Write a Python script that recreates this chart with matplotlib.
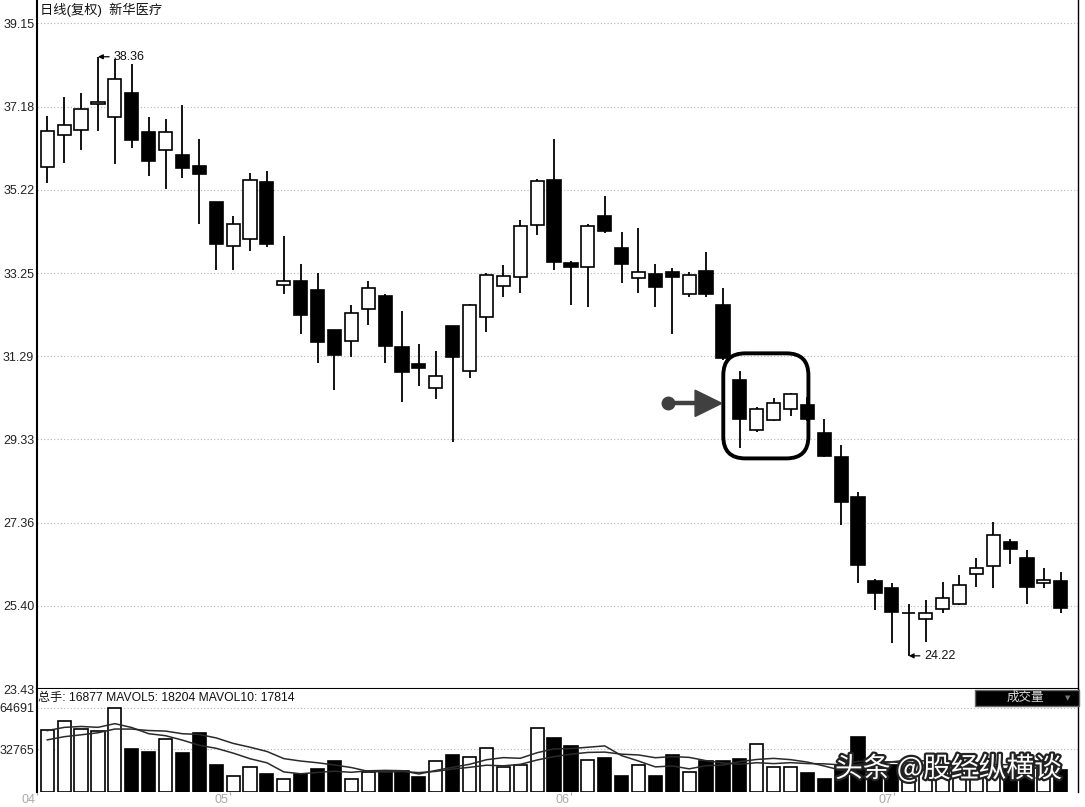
import matplotlib
matplotlib.use('Agg')
import matplotlib.pyplot as plt
import numpy as np
import pandas as pd
from matplotlib.patches import FancyBboxPatch, Polygon, Rectangle
import matplotlib.patheffects as pe

plt.rcParams['font.family'] = ['Liberation Sans', 'Noto Sans CJK SC', 'DejaVu Sans']

# ---------------- data ----------------
opens = [35.75, 36.52, 36.63, 37.24, 36.94, 37.51, 36.59, 36.15, 36.04, 35.78,
         34.93, 33.89, 34.05, 35.41, 32.98, 33.06, 32.85, 31.92, 31.66, 32.40,
         32.71, 31.50, 31.11, 30.54, 32.00, 30.95, 32.21, 32.95, 33.15, 34.40,
         35.46, 33.50, 33.40, 34.59, 33.85, 33.14, 33.24, 33.28, 32.77, 33.30,
         32.49, 30.74, 29.55, 29.79, 30.05, 30.15, 29.47, 28.91, 27.96, 25.99,
         25.81, 25.22, 25.08, 25.32, 25.45, 26.15, 26.33, 26.90, 26.54, 25.93,
         25.99]
highs = [36.96, 37.40, 37.51, 38.36, 38.30, 38.20, 36.94, 36.90, 37.22, 36.41,
         34.93, 34.59, 35.62, 35.67, 34.12, 33.46, 33.26, 31.92, 32.49, 33.07,
         32.75, 32.37, 31.58, 31.41, 32.00, 32.53, 33.25, 33.44, 34.50, 35.47,
         36.41, 33.55, 34.42, 35.07, 34.22, 34.33, 33.48, 33.37, 33.28, 33.75,
         32.91, 30.95, 30.10, 30.31, 30.42, 30.34, 29.81, 29.20, 28.08, 26.03,
         25.93, 25.45, 25.54, 25.97, 26.12, 26.54, 27.37, 26.98, 26.72, 26.30,
         26.20]
lows = [35.37, 35.86, 36.15, 36.60, 35.84, 36.21, 35.55, 35.24, 35.50, 34.42,
        33.32, 33.32, 33.77, 33.87, 32.77, 31.82, 31.14, 30.50, 31.27, 32.03,
        31.14, 30.20, 30.58, 30.28, 29.26, 30.77, 31.86, 32.69, 32.79, 34.16,
        33.32, 32.49, 32.45, 34.20, 33.02, 32.78, 32.45, 31.82, 32.70, 32.69,
        31.20, 29.12, 29.50, 29.76, 29.89, 29.77, 28.92, 27.31, 25.93, 25.30,
        24.53, 24.22, 24.55, 25.24, 25.43, 25.85, 25.82, 26.38, 25.45, 25.83,
        25.24]
closes = [36.61, 36.74, 37.12, 37.30, 37.83, 36.39, 35.89, 36.58, 35.74, 35.59,
          33.93, 34.41, 35.46, 33.93, 33.06, 32.27, 31.62, 31.31, 32.32, 32.90,
          31.54, 30.93, 31.01, 30.82, 31.27, 32.51, 33.22, 33.19, 34.37, 35.42,
          33.51, 33.40, 34.36, 34.24, 33.48, 33.28, 32.92, 33.16, 33.20, 32.77,
          31.24, 29.80, 30.05, 30.19, 30.40, 29.81, 28.94, 27.86, 26.37, 25.71,
          25.26, 25.22, 25.23, 25.59, 25.89, 26.30, 27.07, 26.74, 25.85, 26.01,
          25.34]
volumes = [47430, 54360, 48510, 46660, 64691, 32570, 30800, 40810, 29720, 44890,
           21020, 12550, 19250, 14090, 10010, 13860, 17710, 23870, 10010, 15630,
           15630, 16400, 11240, 23560, 27950, 26950, 33880, 19250, 21020, 49280,
           41580, 35110, 24330, 26180, 12010, 21020, 12550, 27950, 15090, 24100,
           23560, 25410, 36420, 19250, 19250, 14170, 10320, 20000, 42350, 22000,
           21000, 17000, 16500, 17500, 18000, 18120, 18500, 17500, 19000, 19143,
           16877]
# estimated volumes of the days before the window (seed the moving averages)
prior_volumes = [30000, 34000, 31000, 36000, 33000, 42000, 45000, 50000, 50570]

price_ticks = [23.43, 25.40, 27.36, 29.33, 31.29, 33.25, 35.22, 37.18, 39.15]
volume_ticks = [32765, 64691]
month_labels = ['04', '05', '06', '07']
month_pos = [-0.6, 10.8, 31.0, 50.1]

title_text = '日线(复权)  新华医疗'
watermark = '头条 @股经纵横谈'

# ---------------- figure ----------------
W, H = 1085, 807
fig = plt.figure(figsize=(W / 100, H / 100), dpi=100)


def fx(px):
    return px / W


def fy(py):
    return 1 - py / H


ax = fig.add_axes([fx(37), fy(689.3), fx(1078) - fx(37), fy(0) - fy(689.3)])
axv = fig.add_axes([fx(37), fy(792), fx(1078) - fx(37), fy(689.3) - fy(792)])

o = np.array(opens); h = np.array(highs); l = np.array(lows); c = np.array(closes)
v = np.array(volumes)
n = len(o)
x = np.arange(n)
up = c >= o
cols = np.where(up, 'white', 'black')

# candles
ax.vlines(x, l, h, color='black', lw=1.3, zorder=2)
ax.bar(x, np.abs(c - o), bottom=np.minimum(o, c), width=0.78, color=cols,
       edgecolor='black', linewidth=1.2, zorder=3)

ax.set_xlim(-0.61, 61.02)
ax.set_ylim(23.43, 39.70)
ax.set_xticks([])
ax.set_yticks(price_ticks)
ax.set_yticklabels([f'{t:.2f}' for t in price_ticks])
ax.tick_params(axis='y', length=0, pad=2, labelsize=9, labelcolor='#222222')
ax.yaxis.grid(True, linestyle=(0, (1, 2)), color='#b5b5b5', lw=0.8)
ax.set_axisbelow(True)
ax.spines['top'].set_visible(False)
ax.spines['left'].set_linewidth(1.5)
ax.spines['bottom'].set_linewidth(1.5)
ax.spines['right'].set_linewidth(1.0)

# high / low annotations
ih = int(np.argmax(h)); il = int(np.argmin(l))
for idx, val in [(ih, h[ih]), (il, l[il])]:
    ax.annotate(f'{val:.2f}', xy=(idx, val), xytext=(11, 0), textcoords='offset points',
                ha='left', va='center', fontsize=9, color='#111111',
                arrowprops=dict(arrowstyle='-|>', color='black', lw=0.9,
                                shrinkA=1, shrinkB=0, mutation_scale=7))

# rounded box highlighting the pattern
box = FancyBboxPatch((40.02, 28.88), 5.04, 2.48,
                     boxstyle='round,pad=0,rounding_size=1.3',
                     mutation_aspect=0.3987, fill=False, lw=2.8, ec='black',
                     transform=ax.transData, zorder=5)
ax.add_patch(box)
# arrow
ax.plot([36.77, 38.5], [30.18, 30.18], color='#404040', lw=3.2, zorder=5,
        solid_capstyle='butt')
ax.plot([36.77], [30.18], 'o', color='#404040', ms=9, zorder=5)
ax.add_patch(Polygon([[38.35, 30.18 + 0.31], [39.93, 30.18], [38.35, 30.18 - 0.31]],
                     closed=True, color='#404040', zorder=5))

# title
fig.text(fx(40), fy(10), title_text, fontsize=9.5, color='#111111', va='center', ha='left')

# ---------------- volume ----------------
allv = pd.Series(list(prior_volumes) + list(volumes), dtype=float)
ma5 = allv.rolling(5).mean().values[len(prior_volumes):]
ma10 = allv.rolling(10).mean().values[len(prior_volumes):]

axv.bar(x, v, width=0.78, color=cols, edgecolor='black', linewidth=1.2, zorder=3)
axv.plot(x, ma5, color='#2a2a2a', lw=1.1, zorder=4)
axv.plot(x, ma10, color='#2a2a2a', lw=1.1, zorder=4)
axv.set_xlim(-0.61, 61.02)
axv.set_ylim(0, 78630)
axv.set_yticks(volume_ticks)
axv.set_yticklabels([str(t) for t in volume_ticks])
axv.tick_params(axis='y', length=0, pad=2, labelsize=9, labelcolor='#222222')
axv.yaxis.grid(True, linestyle=(0, (1, 2)), color='#b5b5b5', lw=0.8)
axv.set_axisbelow(True)
axv.set_xticks(month_pos)
axv.tick_params(axis='x', length=2.5, color='#aaaaaa', labelbottom=False)
for p, lab in zip(month_pos, month_labels):
    axv.annotate(lab, xy=(p, 0), xycoords=('data', 'axes fraction'), xytext=(-1, -6),
                 textcoords='offset points', ha='right', va='center', fontsize=9,
                 color='#aaaaaa', annotation_clip=False)
axv.spines['top'].set_visible(False)
axv.spines['bottom'].set_visible(False)
axv.spines['left'].set_linewidth(1.5)
axv.spines['right'].set_linewidth(1.0)

fig.text(fx(38), fy(698), f'总手: {volumes[-1]} MAVOL5: {ma5[-1]:.0f} MAVOL10: {ma10[-1]:.0f}',
         fontsize=8.7, color='#111111', va='center', ha='left')

# indicator selector box
fig.add_artist(Rectangle((fx(975), fy(706)), fx(1079) - fx(975), fy(690) - fy(706),
                         transform=fig.transFigure, facecolor='black', edgecolor='#666666', lw=1))
fig.text(fx(1025), fy(698), '成交量', fontsize=9, color='#dddddd', va='center', ha='center')
fig.text(fx(1068), fy(698), '▼', fontsize=5, color='#777777', va='center', ha='center',
         family=['DejaVu Sans'])

# watermark
fig.text(fx(835), fy(769), watermark, fontsize=20, color='white', va='center', ha='left',
         family=['Noto Sans CJK SC', 'DejaVu Sans'],
         path_effects=[pe.withStroke(linewidth=3.2, foreground='#222222')], zorder=10)

fig.savefig('out.png', dpi=100)
